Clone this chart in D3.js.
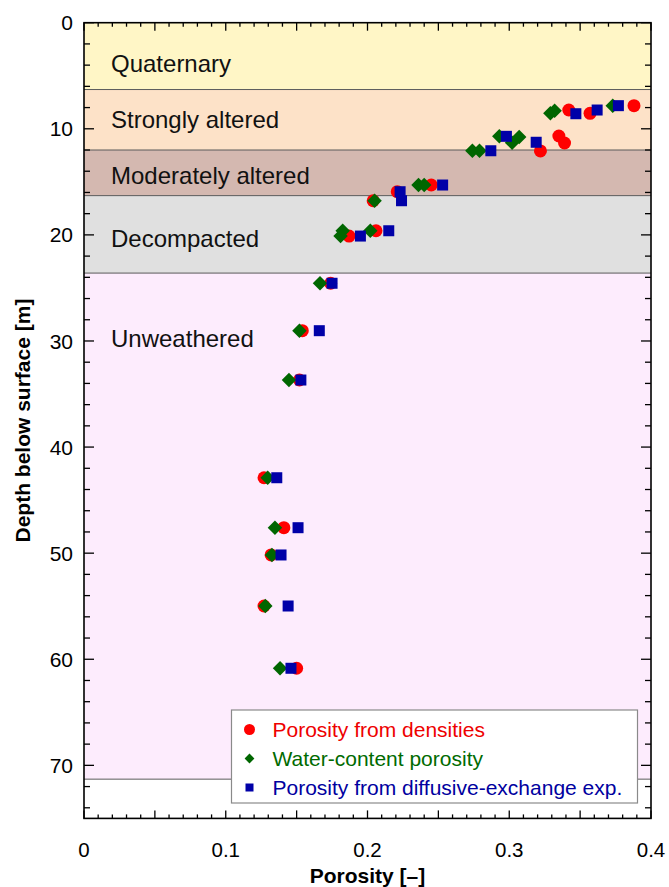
<!DOCTYPE html>
<html>
<head>
<meta charset="utf-8">
<script src="https://cdn.jsdelivr.net/npm/d3@7/dist/d3.min.js"></script>
<style>
  body { margin: 0; background: #fff; }
  svg { display: block; font-family: 'Liberation Sans', Arial, Helvetica, sans-serif; }
</style>
</head>
<body>
<div id="chart"></div>
<script>
// ---- data ----
const units = ['Quaternary', 'Strongly altered', 'Moderately altered', 'Decompacted', 'Unweathered']
const unitTop = [0, 6.3, 12.0, 16.3, 23.6]       // depth [m]
const unitBottom = [6.3, 12.0, 16.3, 23.6, 71.3]

// porosity from densities
const densDepth = [7.82, 8.54, 8.23, 10.68, 11.34, 12.09, 15.30, 15.93, 16.78, 20.11, 19.61, 24.56, 29.03, 33.68, 42.89, 47.60, 50.17, 54.98, 60.85]
const densPoro  = [0.388, 0.357, 0.342, 0.335, 0.339, 0.322, 0.245, 0.221, 0.204, 0.187, 0.206, 0.174, 0.154, 0.152, 0.127, 0.141, 0.132, 0.127, 0.150]

// water-content porosity
const waterDepth = [7.82, 8.54, 8.29, 10.71, 11.31, 10.77, 12.07, 12.07, 15.30, 15.30, 16.78, 19.61, 20.11, 19.61, 24.56, 29.03, 33.68, 42.89, 47.60, 50.17, 54.98, 60.85]
const waterPoro  = [0.373, 0.329, 0.332, 0.293, 0.302, 0.307, 0.274, 0.279, 0.236, 0.240, 0.205, 0.1825, 0.181, 0.202, 0.1665, 0.152, 0.1446, 0.1296, 0.1347, 0.1326, 0.1279, 0.1383]

// porosity from diffusive-exchange experiments
const diffDepth = [7.82, 8.23, 8.58, 10.71, 11.27, 12.07, 15.30, 15.93, 16.78, 20.11, 19.61, 24.56, 29.03, 33.68, 42.89, 47.60, 50.17, 54.98, 60.85]
const diffPoro  = [0.377, 0.362, 0.347, 0.298, 0.319, 0.287, 0.253, 0.223, 0.224, 0.195, 0.215, 0.175, 0.166, 0.153, 0.136, 0.151, 0.139, 0.144, 0.146]

const seriesNames = ['Porosity from densities', 'Water-content porosity', 'Porosity from diffusive-exchange exp.']

const xTickLabels = [0, 0.1, 0.2, 0.3, 0.4]
const yTickLabels = [0, 10, 20, 30, 40, 50, 60, 70]

// ---- layout / style ----
const W = 669, H = 887
const margin = {top: 22.7, right: 18, bottom: 68.6, left: 84}
const innerW = W - margin.left - margin.right
const innerH = H - margin.top - margin.bottom

const unitFill = ['#fff6c6', '#fde2c8', '#d4b8b0', '#e0e0e0', '#fdecfd']
const unitLabelDepth = [3.8, 9.1, 14.4, 20.3, 29.8]   // where the unit names sit
const seriesColor = ['#ff0000', '#006600', '#0000a8']
const legendText = ['#ee0000', '#006a00', '#0000a0']

const svg = d3.select('#chart').append('svg')
  .attr('width', W).attr('height', H)

const g = svg.append('g').attr('transform', `translate(${margin.left}, ${margin.top})`)

const x = d3.scaleLinear().domain([0, 0.4]).range([0, innerW])
const y = d3.scaleLinear().domain([0, 75]).range([0, innerH])

// geological units as background bands
const bands = units.map((u, i) => ({name: u, top: unitTop[i], bottom: unitBottom[i], fill: unitFill[i], ly: unitLabelDepth[i]}))

g.append('g').selectAll('rect')
  .data(bands)
  .enter().append('rect')
    .attr('x', 0)
    .attr('width', innerW)
    .attr('y', d => y(d.top))
    .attr('height', d => y(d.bottom) - y(d.top))
    .style('fill', d => d.fill)

// thin boundary lines between units
g.append('g').selectAll('line')
  .data(unitBottom)
  .enter().append('line')
    .attr('x1', 0).attr('x2', innerW)
    .attr('y1', d => y(d)).attr('y2', d => y(d))
    .style('stroke', '#5a5a5a').style('stroke-width', 1)

g.append('g').selectAll('text')
  .data(bands)
  .enter().append('text')
    .attr('x', 27)
    .attr('y', d => y(d.ly))
    .attr('dy', '0.36em')
    .style('font-size', '24px')
    .style('fill', '#111')
    .text(d => d.name)

// ---- points: red first, then green, blue on top ----
const dens = densDepth.map((d, i) => ({depth: d, p: densPoro[i]}))
const water = waterDepth.map((d, i) => ({depth: d, p: waterPoro[i]}))
const diff = diffDepth.map((d, i) => ({depth: d, p: diffPoro[i]}))

g.append('g').selectAll('circle')
  .data(dens)
  .enter().append('circle')
    .attr('cx', d => x(d.p))
    .attr('cy', d => y(d.depth))
    .attr('r', 6.5)
    .style('fill', seriesColor[0])

const diamond = d3.symbol().type(d3.symbolSquare).size(105)
g.append('g').selectAll('path')
  .data(water)
  .enter().append('path')
    .attr('d', diamond)
    .attr('transform', d => `translate(${x(d.p)}, ${y(d.depth)}) rotate(45)`)
    .style('fill', seriesColor[1])

g.append('g').selectAll('rect')
  .data(diff)
  .enter().append('rect')
    .attr('x', d => x(d.p) - 5.5)
    .attr('y', d => y(d.depth) - 5.5)
    .attr('width', 11).attr('height', 11)
    .style('fill', seriesColor[2])

// ---- axes, ticks inside on all four sides ----
const yMinor = d3.range(0, 76, 2)
const xMinor = d3.range(0, 0.4001, 0.01)

const frame = g.append('g')
// left + right ticks
frame.selectAll('.yt').data(yMinor).enter().append('line')
  .attr('x1', 0).attr('x2', d => d % 10 === 0 ? 10 : 6)
  .attr('y1', d => y(d)).attr('y2', d => y(d))
frame.selectAll('.yt2').data(yMinor).enter().append('line')
  .attr('x1', innerW).attr('x2', d => innerW - (d % 10 === 0 ? 10 : 6))
  .attr('y1', d => y(d)).attr('y2', d => y(d))
// top + bottom ticks
const isMajorX = d => Math.abs(Math.round(d * 20) - d * 20) < 1e-6
frame.selectAll('.xt').data(xMinor).enter().append('line')
  .attr('x1', d => x(d)).attr('x2', d => x(d))
  .attr('y1', innerH).attr('y2', d => innerH - (isMajorX(d) ? 8 : 4))
frame.selectAll('.xt2').data(xMinor).enter().append('line')
  .attr('x1', d => x(d)).attr('x2', d => x(d))
  .attr('y1', 0).attr('y2', d => isMajorX(d) ? 8 : 4)
frame.selectAll('line').style('stroke', '#000').style('stroke-width', 1.3)

frame.append('rect')
  .attr('width', innerW).attr('height', innerH)
  .style('fill', 'none').style('stroke', '#000').style('stroke-width', 1.6)

// tick labels
g.append('g').selectAll('text')
  .data(yTickLabels)
  .enter().append('text')
    .attr('x', -11)
    .attr('y', d => y(d))
    .attr('dy', '0.36em')
    .attr('text-anchor', 'end')
    .style('font-size', '21px')
    .text(d => d)

g.append('g').selectAll('text')
  .data(xTickLabels)
  .enter().append('text')
    .attr('x', d => x(d))
    .attr('y', innerH + 31)
    .attr('dy', '0.36em')
    .attr('text-anchor', 'middle')
    .style('font-size', '20.5px')
    .text(d => d)

// axis titles
g.append('text')
  .attr('x', innerW / 2)
  .attr('y', innerH + 65)
  .attr('text-anchor', 'middle')
  .style('font-size', '21px').style('font-weight', 'bold')
  .text('Porosity [–]')

g.append('text')
  .attr('transform', `translate(${-margin.left + 30}, ${innerH / 2}) rotate(-90)`)
  .attr('text-anchor', 'middle')
  .style('font-size', '21px').style('font-weight', 'bold')
  .text('Depth below surface [m]')

// ---- legend ----
const leg = g.append('g').attr('transform', `translate(${231.5 - margin.left}, ${710 - margin.top})`)
leg.append('rect')
  .attr('width', 406).attr('height', 93)
  .style('fill', '#fff').style('stroke', '#8a8a8a').style('stroke-width', 1.2)

const legRows = leg.selectAll('.row')
  .data(seriesNames)
  .enter().append('g')
    .attr('transform', (d, i) => `translate(18, ${19.5 + i * 29})`)

legRows.each((d, i, nodes) => {
  let row = d3.select(nodes[i])
  if (i === 0) row.append('circle').attr('r', 5.5)
  if (i === 1) row.append('path').attr('d', d3.symbol().type(d3.symbolSquare).size(48)).attr('transform', 'rotate(45)')
  if (i === 2) row.append('rect').attr('x', -4).attr('y', -4).attr('width', 8).attr('height', 8)
  row.selectAll('circle, path, rect').style('fill', seriesColor[i])
  row.append('text')
    .attr('x', 23)
    .attr('dy', '0.36em')
    .style('font-size', '21px')
    .style('fill', legendText[i])
    .text(d)
})
</script>
</body>
</html>
